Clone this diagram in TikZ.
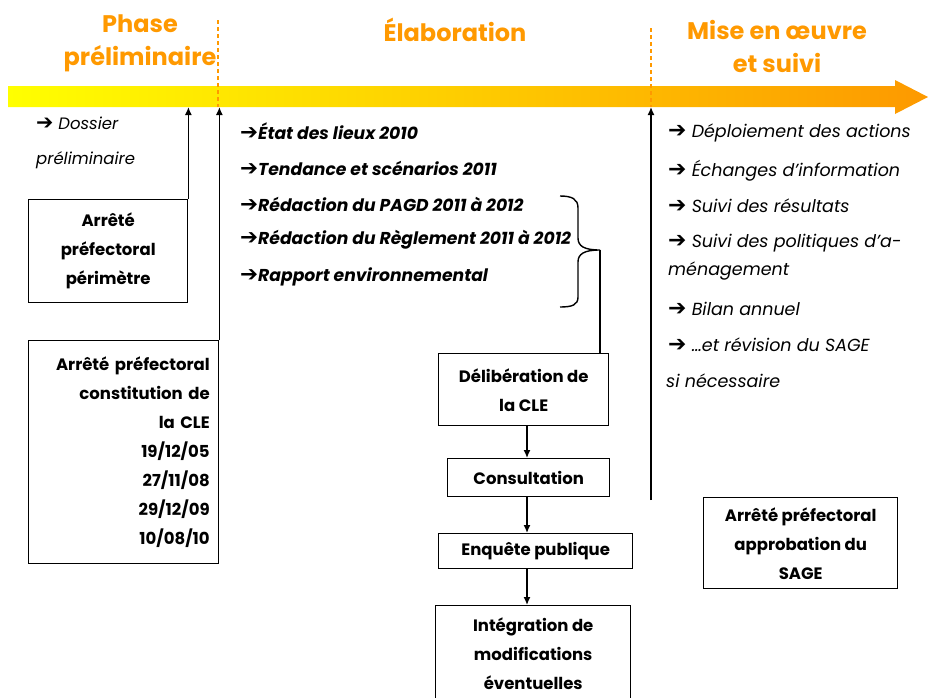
\documentclass[tikz,border=0pt]{standalone}
\usepackage{fontspec}
\setmainfont{Poppins}
\newfontfamily\symfont{DejaVu Sans}
\usetikzlibrary{arrows.meta, calc}
\definecolor{phaseorange}{RGB}{255,153,0}
\definecolor{baryellow}{RGB}{255,255,0}
\definecolor{barmid}{RGB}{255,198,0}
\definecolor{barorange}{RGB}{253,153,0}
\newcommand{\itemarrow}{\scalebox{1.25}{\symfont\char"2794}}
\tikzstyle{line} = [draw, line width=1.4pt, -{Latex[length=8pt,width=7pt]}]
\tikzstyle{box} = [rectangle, draw, line width=1.4pt, anchor=north west, inner sep=0pt, align=center, font=\bfseries\fontsize{16.5}{29}\selectfont]
\tikzstyle{phase} = [align=center, text=phaseorange, font=\bfseries\fontsize{24}{33}\selectfont]
\tikzstyle{task} = [anchor=west, inner sep=0pt, font=\bfseries\itshape\fontsize{17.2}{17}\selectfont]
\tikzstyle{followup} = [anchor=west, inner sep=0pt, font=\itshape\fontsize{17.5}{17}\selectfont]
\tikzstyle{divider} = [draw=phaseorange, line width=1.5pt, dash pattern=on 4pt off 3pt]

\begin{document}
\begin{tikzpicture}[x=1pt, y=-1pt]
	\useasboundingbox (0,0) rectangle (928,697);
	
	% timeline
	\shade [left color=baryellow, middle color=barmid, right color=barorange] (8,86) -- (895,86) -- (895,80) -- (928,97) -- (895,114) -- (895,107) -- (8,107) -- cycle;
	\coordinate (barS) at (0,107);
	
	\node [phase] (prelim) at (140,43) {Phase\\préliminaire};
	\node [phase] (elab) at (455,30) {Élaboration};
	\node [phase] (suivi) at (777,46) {Mise en œuvre\\et suivi};
	
	\coordinate (div1) at (218,20);
	\coordinate (div2) at (651,28);
	\draw [divider] (div1) -- (div1 |- barS);
	\draw [divider] (div2) -- (div2 |- barS);
	
	% phase preliminaire
	\node [followup, font=\itshape\fontsize{16.5}{17}\selectfont] (dossier1) at (36,123) {\itemarrow{} Dossier};
	\node [followup, font=\itshape\fontsize{16.5}{17}\selectfont] (dossier2) at (36,160) {préliminaire};
	
	\node [box, minimum width=159pt, minimum height=103pt] (perim) at (28,199) {Arrêté\\préfectoral\\périmètre};
	\node [box, minimum height=223pt, text width=172pt, inner xsep=9pt, align=right] (cle) at (28,340) {Arrêté préfectoral\\constitution de\\la CLE\\19/12/05\\27/11/08\\29/12/09\\10/08/10};
	
	\path [line] (perim.north east) -- (perim.north east |- barS);
	\path [line] (cle.north east) -- (cle.north east |- barS);
	
	% elaboration
	\node [task] (etat) at (240,131) {\itemarrow État des lieux 2010};
	\node [task] (tendance) at (240,168) {\itemarrow Tendance et scénarios 2011};
	\node [task] (pagd) at (240,204) {\itemarrow Rédaction du PAGD 2011 à 2012};
	\node [task] (reglement) at (240,240) {\itemarrow Rédaction du Règlement 2011 à 2012};
	\node [task] (rapport) at (240,277) {\itemarrow Rapport environnemental};
	
	\coordinate (bracetip) at (600,250);
	\draw [line width=1.4pt] (560,196) .. controls (572,196) and (578,199) .. (578,208) -- (578,238) .. controls (578,246) and (584,250) .. (bracetip) .. controls (584,250) and (578,254) .. (578,262) -- (578,297) .. controls (578,305) and (572,307) .. (560,307);
	
	\node [box, minimum width=170pt, minimum height=72pt] (delib) at (438,353) {Délibération de\\la CLE};
	\node [box, minimum width=162pt, minimum height=38pt] (consult) at (447,458) {Consultation};
	\node [box, minimum width=194pt, minimum height=35pt] (enquete) at (438,533) {Enquête publique};
	\node [box, minimum width=195pt, minimum height=96pt] (integ) at (435,605) {Intégration de\\modifications\\éventuelles};
	
	\draw [line width=1.4pt] (bracetip) -- (bracetip |- delib.north);
	\coordinate (flow) at (527,0);
	\path [line] (delib.south -| flow) -- (consult.north -| flow);
	\path [line] (consult.south -| flow) -- (enquete.north -| flow);
	\path [line] (enquete.south -| flow) -- (integ.north -| flow);
	
	% mise en oeuvre
	\node [followup] (deploi) at (668,133) {\itemarrow{} Déploiement des actions};
	\node [followup] (echange) at (668,171) {\itemarrow{} Échanges d'information};
	\node [followup] (result) at (668,206) {\itemarrow{} Suivi des résultats};
	\node [followup] (polit1) at (668,243) {\itemarrow{} Suivi des politiques d'a-};
	\node [followup] (polit2) at (668,271) {ménagement};
	\node [followup] (bilan) at (668,309) {\itemarrow{} Bilan annuel};
	\node [followup] (revision) at (668,345) {\itemarrow{} …et révision du SAGE};
	\node [followup] (necess) at (666,381) {si nécessaire};
	
	\coordinate (suiviend) at (651,500);
	\path [line] (suiviend) -- (suiviend |- barS);
	
	\node [box, minimum width=194pt, minimum height=91pt] (sage) at (703,497) {Arrêté préfectoral\\approbation du\\SAGE};
	
\end{tikzpicture}
\end{document}
